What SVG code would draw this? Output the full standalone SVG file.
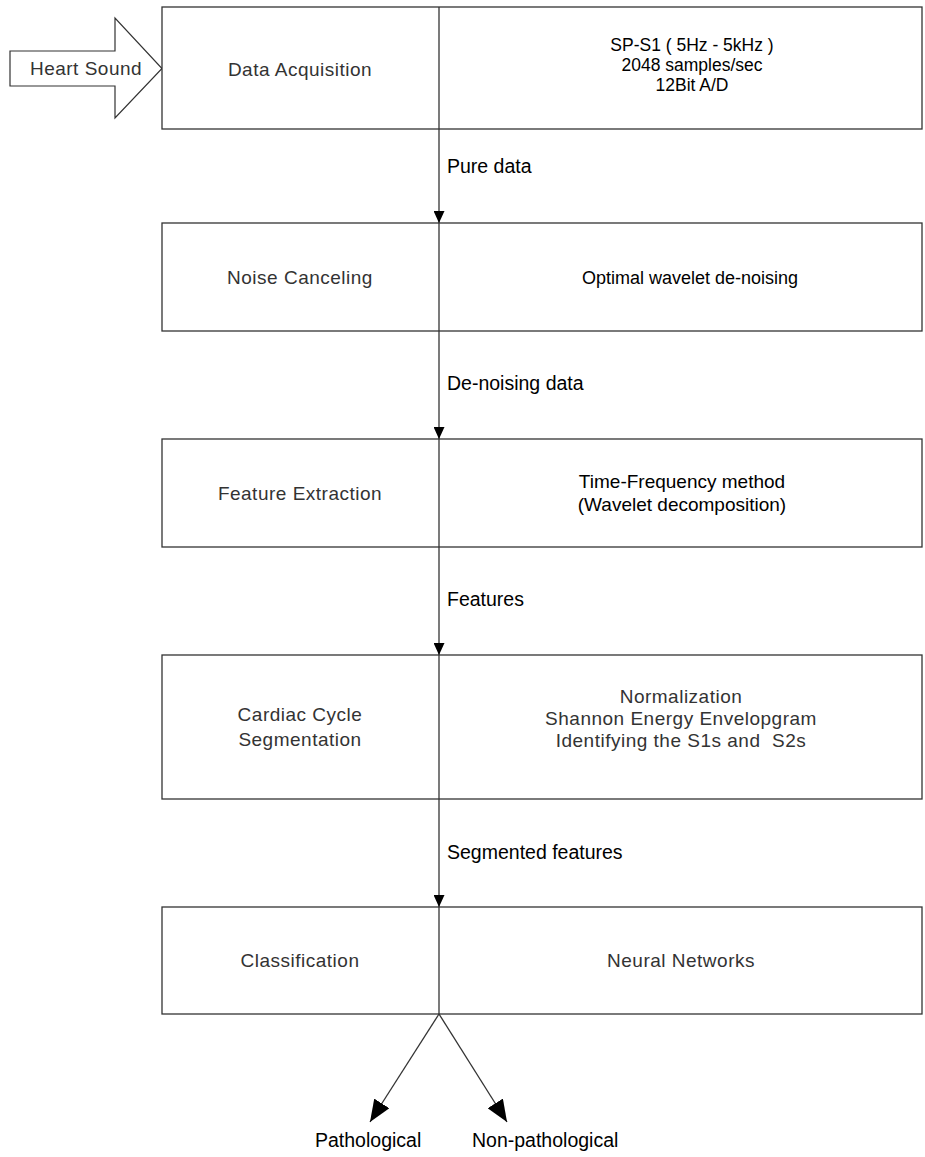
<svg xmlns="http://www.w3.org/2000/svg" width="925" height="1157" viewBox="0 0 925 1157">
  <style>
    .box { fill: #fff; stroke: #333; stroke-width: 1.3; }
    .div { stroke: #333; stroke-width: 1.3; }
    .conn { stroke: #333; stroke-width: 1.3; fill: none; }
    .thin { font-family: "Liberation Sans", Arial, sans-serif; font-size: 19px; letter-spacing: 0.5px; fill: #333; text-anchor: middle; white-space: pre; }
    .bold { font-family: "Liberation Sans", Arial, sans-serif; font-size: 19px; fill: #000; text-anchor: middle; white-space: pre; }
    .spec { font-size: 17.5px; }
    .opt { font-size: 18px; }
    .lbl { font-family: "Liberation Sans", Arial, sans-serif; font-size: 19.5px; fill: #000; }
  </style>
  <defs>
    <marker id="arrowSmall" viewBox="0 0 12 11" refX="12" refY="5.5" markerWidth="12" markerHeight="11" markerUnits="userSpaceOnUse" orient="auto">
      <path d="M0,0 L12,5.5 L0,11 z" fill="#000"/>
    </marker>
    <marker id="arrowLarge" viewBox="0 0 22 18" refX="22" refY="9" markerWidth="22" markerHeight="18" markerUnits="userSpaceOnUse" orient="auto">
      <path d="M0,0 L22,9 L0,18 z" fill="#000"/>
    </marker>
  </defs>

  <!-- input block arrow -->
  <g id="heart-sound">
    <polygon points="10,51 115,51 115,18 162,68.5 115,118 115,86 10,86" fill="#fff" stroke="#333" stroke-width="1.2"/>
    <text class="thin" x="86" y="75">Heart Sound</text>
  </g>

  <!-- processing stages: left = stage name, right = method -->
  <g id="data-acquisition">
    <rect class="box" x="162" y="7" width="760" height="122"/>
    <line class="div" x1="439" y1="7" x2="439" y2="129"/>
    <text class="thin" x="300" y="76">Data Acquisition</text>
    <text class="bold spec" x="692" y="50.5">SP-S1 ( 5Hz - 5kHz )</text>
    <text class="bold spec" x="692" y="70.5">2048 samples/sec</text>
    <text class="bold spec" x="692" y="90.5">12Bit A/D</text>
  </g>

  <g id="noise-canceling">
    <rect class="box" x="162" y="223" width="760" height="108"/>
    <line class="div" x1="439" y1="223" x2="439" y2="331"/>
    <text class="thin" x="300" y="284">Noise Canceling</text>
    <text class="bold opt" x="690" y="284">Optimal wavelet de-noising</text>
  </g>

  <g id="feature-extraction">
    <rect class="box" x="162" y="439" width="760" height="108"/>
    <line class="div" x1="439" y1="439" x2="439" y2="547"/>
    <text class="thin" x="300" y="500">Feature Extraction</text>
    <text class="bold" x="682" y="488">Time-Frequency method</text>
    <text class="bold" x="682" y="511">(Wavelet decomposition)</text>
  </g>

  <g id="cardiac-cycle-segmentation">
    <rect class="box" x="162" y="655" width="760" height="144"/>
    <line class="div" x1="439" y1="655" x2="439" y2="799"/>
    <text class="thin" x="300" y="721">Cardiac Cycle</text>
    <text class="thin" x="300" y="745.5">Segmentation</text>
    <text class="thin" x="681" y="703">Normalization</text>
    <text class="thin" x="681" y="725">Shannon Energy Envelopgram</text>
    <text class="thin" x="681" y="747">Identifying the S1s and  S2s</text>
  </g>

  <g id="classification">
    <rect class="box" x="162" y="907" width="760" height="107"/>
    <line class="div" x1="439" y1="907" x2="439" y2="1014"/>
    <text class="thin" x="300" y="967">Classification</text>
    <text class="thin" x="681" y="967">Neural Networks</text>
  </g>

  <g id="outcomes">
    <text class="lbl" x="315" y="1147">Pathological</text>
    <text class="lbl" x="472" y="1147">Non-pathological</text>
  </g>

  <!-- data flow between stages -->
  <g id="connectors">
    <line class="conn" x1="439" y1="129" x2="439" y2="223" marker-end="url(#arrowSmall)"/>
    <line class="conn" x1="439" y1="331" x2="439" y2="439" marker-end="url(#arrowSmall)"/>
    <line class="conn" x1="439" y1="547" x2="439" y2="655" marker-end="url(#arrowSmall)"/>
    <line class="conn" x1="439" y1="799" x2="439" y2="907" marker-end="url(#arrowSmall)"/>
    <line class="conn" x1="439" y1="1014" x2="370" y2="1122" marker-end="url(#arrowLarge)"/>
    <line class="conn" x1="439" y1="1014" x2="507" y2="1122" marker-end="url(#arrowLarge)"/>
    <text class="lbl" x="447" y="173">Pure data</text>
    <text class="lbl" x="447" y="390">De-noising data</text>
    <text class="lbl" x="447" y="606">Features</text>
    <text class="lbl" x="447" y="859">Segmented features</text>
  </g>
</svg>
